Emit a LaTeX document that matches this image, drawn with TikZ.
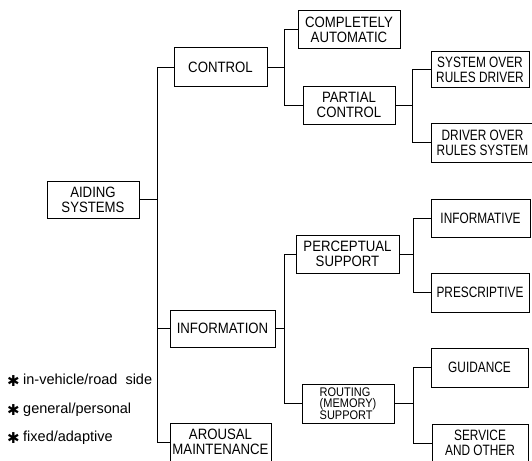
\documentclass[tikz,border=0pt]{standalone}
\usepackage{fontspec}
\setmainfont{Liberation Sans}[FakeStretch=0.88]
\newfontfamily\narrowfont{Liberation Sans}[FakeStretch=0.79]
\newfontfamily\notefont{Liberation Sans}
\newfontfamily\symfont{DejaVu Sans}
\begin{document}
\begin{tikzpicture}[x=1pt,y=-1pt,
  box/.style={draw,line width=1pt,inner sep=0pt,align=center,font=\fontsize{15}{15}\selectfont},
  leaf/.style={box,font=\narrowfont\fontsize{15}{15}\selectfont},
  conn/.style={line width=1pt},
  note/.style={anchor=base west,inner sep=0pt,font=\notefont\fontsize{14.5}{14.5}\selectfont},
  star/.style={anchor=base west,inner sep=0pt,font=\symfont\fontsize{15}{15}\selectfont}]
\useasboundingbox (0,0) rectangle (532,460);
\clip (0,0) rectangle (532,460);
% level 0
\node[box,minimum width=92pt,minimum height=37pt] (aid) at (93,199.5) {AIDING\\SYSTEMS};
% level 1
\node[box,minimum width=93pt,minimum height=38pt] (control) at (220.5,67) {CONTROL};
\node[box,minimum width=105pt,minimum height=37pt] (info) at (222.5,328.5) {INFORMATION};
\node[box,minimum width=101pt,minimum height=38pt] (arousal) at (220.5,442) {AROUSAL\\MAINTENANCE};
% level 2
\node[box,minimum width=102pt,minimum height=38pt] (auto) at (349,30) {COMPLETELY\\AUTOMATIC};
\node[box,minimum width=92pt,minimum height=38pt] (partial) at (349,105) {PARTIAL\\CONTROL};
\node[box,minimum width=103pt,minimum height=38pt] (percept) at (347.5,254) {PERCEPTUAL\\SUPPORT};
\node[box,minimum width=92pt,minimum height=39pt,align=left,font=\fontsize{12.5}{11}\selectfont] (routing) at (348,403.5) {ROUTING\\(MEMORY)\\SUPPORT};
% level 3
\node[leaf,minimum width=98pt,minimum height=35pt] (sysover) at (480,69.5) {SYSTEM OVER\\RULES DRIVER};
\node[leaf,minimum width=103pt,minimum height=39pt] (drvover) at (482.5,142.5) {DRIVER OVER\\RULES SYSTEM};
\node[leaf,minimum width=99pt,minimum height=38pt] (informative) at (480.5,218) {INFORMATIVE};
\node[leaf,minimum width=98pt,minimum height=39pt] (prescr) at (480,292.5) {PRESCRIPTIVE};
\node[leaf,minimum width=97pt,minimum height=39pt] (guid) at (479.5,367.5) {GUIDANCE};
\node[leaf,minimum width=96pt,minimum height=38pt] (service) at (480,443) {SERVICE\\AND OTHER};
% junctions
\coordinate (j1) at (157,199.5);
\coordinate (j2) at (284,67);
\coordinate (j3) at (412,105);
\coordinate (j4) at (284,328.5);
\coordinate (j5) at (413,254);
\coordinate (j6) at (413,403.5);
% connectors
\draw[conn] (aid.east) -- (j1);
\draw[conn] (j1) |- (control.west);
\draw[conn] (j1) |- (info.west);
\draw[conn] (j1) |- (arousal.west);
\draw[conn] (control.east) -- (j2);
\draw[conn] (j2) |- (auto.west);
\draw[conn] (j2) |- (partial.west);
\draw[conn] (partial.east) -- (j3);
\draw[conn] (j3) |- (sysover.west);
\draw[conn] (j3) |- (drvover.west);
\draw[conn] (info.east) -- (j4);
\draw[conn] (j4) |- (percept.west);
\draw[conn] (j4) |- (routing.west);
\draw[conn] (percept.east) -- (j5);
\draw[conn] (j5) |- (informative.west);
\draw[conn] (j5) |- (prescr.west);
\draw[conn] (routing.east) -- (j6);
\draw[conn] (j6) |- (guid.west);
\draw[conn] (j6) |- (service.west);
% notes
\node[star] (s1) at (7,386) {✱};
\node[note] (n1) at (23,384) {in-vehicle/road\ \ side};
\node[star] (s2) at (7,415) {✱};
\node[note] (n2) at (23,413) {general/personal};
\node[star] (s3) at (7,443) {✱};
\node[note] (n3) at (23,441) {fixed/adaptive};
\end{tikzpicture}
\end{document}
